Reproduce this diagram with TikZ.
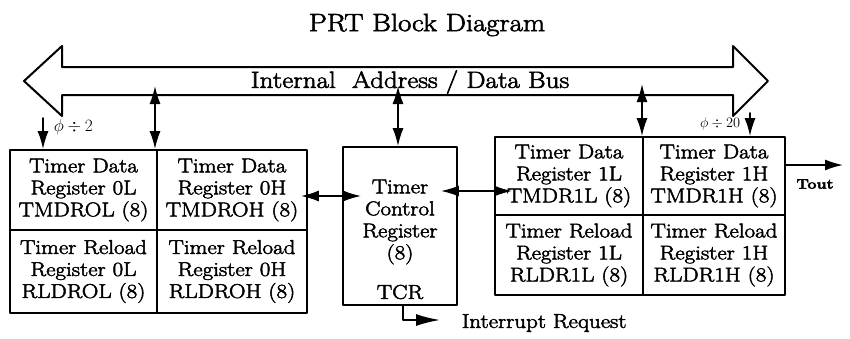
\documentclass[tikz,border=0pt]{standalone}
\usepackage{fontspec}
\setmainfont{Latin Modern Roman}[FakeStretch=1.15,FakeBold=2.5]
\usetikzlibrary{arrows.meta}
\begin{document}
\begin{tikzpicture}[
	x=1pt,y=-1pt,
	>={Latex[length=18pt,width=11pt]},
	line width=1.7pt,
	line cap=round,
	line join=round,
	cell/.style={draw,inner sep=0pt,align=center,font=\fontsize{20}{22}\selectfont},
	lbl/.style={inner sep=1pt,font=\fontsize{20}{22}\selectfont}
	]
	\useasboundingbox (0,0) rectangle (850,338);
	\node (title) at (427,25) {\fontsize{25}{28}\selectfont PRT Block Diagram};
	% bus
	\draw[line width=2pt] (24,81) -- (62,46) -- (62,67) -- (733,67) -- (733,46) -- (768,81)
		-- (733,116) -- (733,95) -- (62,95) -- (62,116) -- cycle;
	\node (bus) at (410,82) {\fontsize{23.5}{26}\selectfont Internal\ \ Address / Data Bus};
	% timer 0
	\node[cell,minimum width=147pt,minimum height=80pt] (tdr0l) at (83.5,190) {Timer Data\\Register 0L\\TMDROL (8)};
	\node[cell,minimum width=150pt,minimum height=80pt] (tdr0h) at (232,190) {Timer Data\\Register 0H\\TMDROH (8)};
	\node[cell,minimum width=147pt,minimum height=83pt] (rld0l) at (83.5,271.5) {Timer Reload\\Register 0L\\RLDROL (8)};
	\node[cell,minimum width=150pt,minimum height=83pt] (rld0h) at (232,271.5) {Timer Reload\\Register 0H\\RLDROH (8)};
	% control
	\node[draw,minimum width=114pt,minimum height=158pt] (tcr) at (400,226) {};
	\node[cell,draw=none] (tcrtxt) at (400,222) {Timer\\Control\\Register\\(8)};
	\node[cell,draw=none] (tcrname) at (400,292) {TCR};
	% timer 1
	\node[cell,minimum width=148pt,minimum height=78pt] (tdr1l) at (569,176) {Timer Data\\Register 1L\\TMDR1L (8)};
	\node[cell,minimum width=142pt,minimum height=78pt] (tdr1h) at (714,176) {Timer Data\\Register 1H\\TMDR1H (8)};
	\node[cell,minimum width=148pt,minimum height=80pt] (rld1l) at (569,255) {Timer Reload\\Register 1L\\RLDR1L (8)};
	\node[cell,minimum width=142pt,minimum height=80pt] (rld1h) at (714,255) {Timer Reload\\Register 1H\\RLDR1H (8)};
	% bus connections
	\coordinate (bus0) at (155,86);
	\coordinate (bus1) at (398,86);
	\coordinate (bus2) at (642,84);
	\begin{scope}[<->]
		\draw (bus0) -- (bus0 |- tdr0h.north);
		\draw (bus1) -- (bus1 |- tcr.north);
		\draw (bus2) -- (bus2 |- tdr1h.north);
	\end{scope}
	% clocks
	\coordinate (clk0) at (43,118);
	\coordinate (clk1) at (750,113);
	\draw[->] (clk0) -- (clk0 |- tdr0l.north);
	\draw[->] (clk1) -- (clk1 |- tdr1h.north);
	\node[anchor=west,inner sep=0pt,font=\fontsize{17}{19}\selectfont] (phi0) at (53,127) {$\phi\div2$};
	\node[anchor=east,inner sep=0pt,font=\fontsize{15}{17}\selectfont] (phi1) at (741,124) {$\phi\div20$};
	% register links
	\coordinate (h0) at (0,196);
	\coordinate (h1) at (0,191);
	\draw[<->,shorten <=-7pt,shorten >=-19pt] (h0 -| tdr0h.east) -- (h0 -| tcr.west);
	\draw[<->,shorten <=-17pt,shorten >=-18pt] (h1 -| tcr.east) -- (h1 -| tdr1l.west);
	% interrupt
	\coordinate (irq) at (440,320);
	\draw[-{Latex[length=24pt,width=12pt]}] ([xshift=3pt]tcr.south) |- (irq);
	\node[lbl,anchor=west] (irqtxt) at (460,323) {Interrupt Request};
	% output
	\coordinate (tout) at (843,165);
	\draw[->] (tout -| tdr1h.east) -- (tout);
	\node[inner sep=0pt] (touttxt) at (815,184) {\fontsize{14}{16}\selectfont\bfseries Tout};
\end{tikzpicture}
\end{document}
